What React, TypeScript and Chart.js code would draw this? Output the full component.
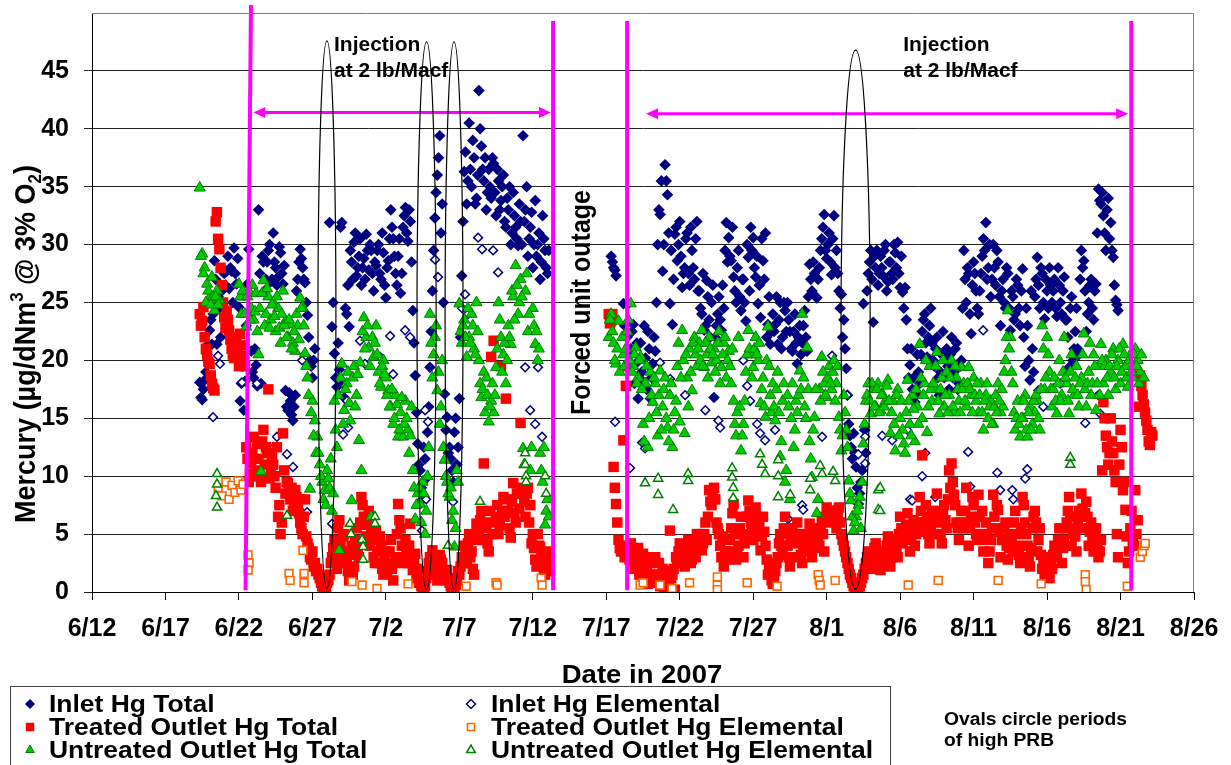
import React, { useEffect, useRef } from "react";
import { Chart, registerables } from "chart.js";

Chart.register(...registerables);

const FONT = '"Liberation Sans", Arial, Helvetica, sans-serif';
const NAVY = "#000080";
const RED = "#ff0000";
const ORANGE = "#ff6600";
const GREEN_FILL = "#00cc00";
const GREEN_EDGE = "#008000";
const MAGENTA = "#ff00ff";

// x values are days after 6/12/2007. The totals are logged every 4 hours from 6/19 08:00
// (primary readings) plus a second reading 2 hours later (offset readings).
const FIRST_SAMPLE_DAY = 7 + 1 / 3;
const SAMPLES_PER_DAY = 6;
const OFFSET_DAYS = 1 / 12;
const _ = null;

const inletHgTotal = [
  18.1, 16.6, 18.3, 20.5, 22.6, 21.4, // 6/19
  28.6, 21.4, 24.5, 26.0, 27.5, 27.7,
  26.2, 27.7, 29.7, 26.6, 24.6, 18.0,
  15.7, 23.0, 29.6, 20.8, 18.5, 19.6, // 6/22
  33.0, 18.0, 28.5, 27.0, 29.5, 26.8,
  31.0, 28.0, 27.2, 29.3, 26.6, 17.4,
  15.7, 16.5, 14.8, 17.0, 27.0, 29.6,
  28.0, 26.7, 23.9, 20.0, 18.5, 21.0,
  _, _, _, _, _, 31.9, // 6/27
  22.9, 20.6, 17.7, 19.2, 31.9, 16.8,
  24.0, 22.9, 28.5, 30.2, 27.3, 29.0,
  26.5, 28.8, 30.9, 27.8, 29.5, 26.0,
  28.2, 30.0, 27.0, 29.3, 25.4, 28.6,
  33.0, 30.5, 27.5, 29.0, 25.8, 31.5, // 7/2
  33.2, 30.3, 32.0, 24.3, 18.7, 12.8,
  10.5, 8.0, 11.5, 13.8, 19.4, 26.0,
  32.3, 36.0, 39.4, 33.5, 17.1, 15.1,
  12.5, 10.5, 13.8, 11.0, 16.7, 27.3,
  36.3, 33.5, 40.5, 35.0, 37.5, 34.0, // 7/7
  43.3, 38.5, 35.5, 33.0, 36.5, 34.0,
  37.0, 32.5, 35.5, 33.8, 36.0, 31.5,
  33.0, 30.0, 34.5, 31.5, 29.9, 32.0,
  39.4, 33.0, 29.0, 31.5, 28.0, 33.8,
  30.0, 27.0, 32.5, 29.5, 27.5, _, // 7/12
  _, _, _, _, _, _,
  _, _, _, _, _, _,
  _, _, _, _, _, _,
  _, _, _, _, _, _,
  29.0, 28.0, 27.3, _, _, 24.9, // 7/17
  23.1, 24.9, 21.0, 23.1, 19.7, 16.7,
  21.5, 18.0, 20.2, 22.5, 16.7, 19.7,
  20.8, 30.0, 32.6, 27.7, 36.9, 34.3,
  24.9, 23.1, 30.9, 28.6, 32.0, 26.3,
  28.0, 31.0, 26.5, 29.5, 27.0, 32.0, // 7/22
  26.0, 24.0, 22.6, 26.9, 23.5, 25.0,
  16.8, 23.0, 25.5, 22.6, 24.5, 31.9,
  30.6, 28.6, 27.2, 25.0, 29.5, 24.3,
  27.0, 23.4, 28.9, 31.5, 30.6, 27.2,
  24.9, 23.7, 28.6, 31.0, 23.1, 21.4, // 7/27
  24.0, 23.1, 21.4, 25.0, 22.0, 24.3,
  25.0, 22.5, 20.8, 24.0, 19.7, 23.0,
  21.5, 24.3, 20.8, 28.3, 26.0, 27.5,
  25.4, 28.0, 30.5, 32.6, 28.8, 31.0,
  27.4, 32.5, 29.5, 26.0, 25.7, 23.5, // 8/1
  19.3, 14.5, 12.5, 13.7, 10.8, 7.6,
  9.5, 24.9, 12.0, 27.5, 29.5, 23.3,
  28.0, 26.5, 29.0, 27.3, 30.0, 26.8,
  28.5, 27.0, 29.3, 30.2, 26.3, 25.9,
  26.3, 21.0, 19.6, 17.5, 16.4, 20.5, // 8/6
  18.0, 22.5, 24.0, 20.3, 23.0, 21.5,
  19.5, 22.0, 17.0, 20.5, 18.5, 21.0,
  17.5, 22.0, 19.0, 21.5, 18.0, 20.0,
  29.5, 25.0, 27.5, 22.3, 28.5, 26.0,
  24.0, 27.5, 30.5, 31.9, 28.0, 25.5, // 8/11
  30.0, 26.5, 28.5, 23.0, 27.0, 24.5,
  27.5, 22.6, 25.5, 24.0, 26.5, 23.0,
  27.9, 19.5, 23.0, 18.3, 21.0, 25.5,
  28.9, 24.5, 27.5, 23.6, 26.0, 28.0,
  25.0, 27.0, 23.8, 26.5, 24.0, 27.2, // 8/16
  23.5, 19.4, 25.5, 21.0, 24.5, 20.5,
  29.5, 28.6, 22.5, 25.0, 27.0, 23.5,
  26.6, 34.8, 33.5, 32.5, 29.5, 34.0,
  31.9, 28.9, 25.2, 24.3, _, _,
  _, _, _, _, _, _, // 8/21
  _, _, _, _, _, _,
];

const inletHgTotalOffset = [
  16.8, 17.5, 19.0, 21.4, 23.5, 24.0, // 6/19
  27.0, 25.5, 22.0, 27.8, 26.5, 29.0,
  28.0, 25.0, 27.5, 28.8, 16.5, 19.5,
  18.2, 26.6, 24.0, 19.0, 21.0, 17.8, // 6/22
  27.5, 29.0, 26.0, 28.5, 30.0, 27.0,
  28.5, 26.5, 29.8, 27.5, 28.2, 16.0,
  17.2, 15.3, 16.0, 26.0, 28.5, 28.8,
  27.0, 25.0, 22.0, 19.5, 20.0, _,
  _, _, _, _, _, _, // 6/27
  25.0, 18.5, 21.5, 31.5, 18.0, 24.5,
  26.5, 29.5, 27.0, 31.0, 28.0, 30.5,
  28.0, 27.0, 29.5, 30.0, 27.5, 28.5,
  29.5, 27.5, 31.0, 26.5, 28.0, 30.5,
  31.5, 29.0, 26.5, 30.5, 27.5, 32.5, // 7/2
  31.0, 33.0, 28.5, 21.5, 15.5, 11.0,
  9.0, 12.5, 9.8, 16.0, 22.5, 29.5,
  34.5, 37.5, 31.0, 25.0, 14.0, 12.0,
  11.5, 9.5, 15.0, 12.5, 22.0, 32.0,
  38.0, 35.5, 36.5, 39.0, 33.5, 36.0, // 7/7
  40.0, 36.5, 37.5, 34.5, 35.0, 37.5,
  34.5, 36.5, 33.0, 35.0, 32.0, 34.0,
  35.0, 31.0, 32.5, 30.5, 33.5, 30.0,
  32.0, 35.0, 30.5, 32.8, 30.0, 29.0,
  31.0, 28.5, 30.5, 28.0, 29.5, _, // 7/12
  _, _, _, _, _, _,
  _, _, _, _, _, _,
  _, _, _, _, _, _,
  _, _, _, _, _, _,
  28.5, 27.8, _, _, _, 23.0, // 7/17
  22.0, 20.5, 22.5, 18.0, 21.5, 18.5,
  19.0, 23.0, 17.5, 21.0, 18.5, 22.0,
  25.0, 33.0, 35.5, 30.0, 35.5, 31.0,
  29.5, 27.0, 31.5, 30.0, 29.0, 27.5,
  30.5, 27.5, 31.5, 28.0, 30.5, 26.0, // 7/22
  24.5, 27.5, 23.0, 25.5, 22.0, 26.5,
  22.0, 24.0, 23.5, 26.5, 29.5, 28.5,
  29.0, 31.5, 26.0, 28.0, 25.5, 27.0,
  25.0, 30.0, 26.0, 29.5, 28.0, 29.0,
  26.5, 30.5, 27.0, 22.0, 25.5, 22.5, // 7/27
  22.5, 25.5, 23.5, 21.0, 25.0, 22.5,
  23.5, 21.0, 22.5, 21.5, 22.0, 20.5,
  23.0, 22.0, 25.5, 27.0, 28.5, 25.5,
  27.0, 29.5, 31.5, 29.5, 30.0, 28.5,
  30.5, 28.0, 27.5, 24.5, 22.0, 21.0, // 8/1
  17.0, 13.5, 11.5, 12.0, 9.0, 8.5,
  10.5, 14.0, 26.0, 28.5, 27.0, 29.0,
  29.5, 27.5, 28.0, 29.5, 26.0, 28.5,
  27.5, 30.0, 28.0, 27.5, 29.0, 24.5,
  23.5, 18.5, 21.0, 18.5, 17.0, 19.0, // 8/6
  20.5, 23.5, 21.5, 22.0, 24.5, 20.0,
  21.0, 18.5, 19.0, 22.5, 20.0, 19.5,
  20.5, 18.5, 21.0, 17.5, 19.5, 24.5,
  27.0, 28.0, 24.0, 26.5, 27.5, 24.5,
  26.0, 29.0, 29.5, 27.0, 30.0, 27.0, // 8/11
  28.0, 29.5, 25.5, 26.0, 25.0, 28.0,
  24.5, 26.0, 23.5, 27.0, 24.5, 26.0,
  22.0, 24.5, 20.0, 26.0, 19.0, 27.0,
  26.5, 28.0, 25.0, 27.0, 24.5, 26.5,
  26.0, 24.5, 28.0, 25.0, 26.0, 23.5, // 8/16
  22.0, 24.5, 20.0, 22.5, 21.0, 27.0,
  28.0, 26.0, 24.0, 26.5, 24.5, 26.0,
  31.0, 33.8, 34.5, 31.0, 33.0, 30.5,
  29.5, 26.5, 24.8, _, _, _,
  _, _, _, _, _, _, // 8/21
  _, _, _, _, _, _,
];

const treatedOutletHgTotal = [
  24.0, 23.4, 22.0, 20.5, 19.7, 18.0, // 6/19
  17.4, 32.8, 29.6, 26.5, 23.7, 24.3,
  22.6, 21.0, 20.2, 22.0, 19.5, 21.3,
  20.0, 12.5, 9.5, 11.1, 13.4, 10.5, // 6/22
  11.5, 9.5, 14.0, 12.5, 17.5, 10.5,
  11.0, 9.0, 6.5, 5.0, 13.7, 8.5,
  9.4, 8.0, 7.0, 8.8, 7.5, 6.0,
  5.0, 8.0, 4.2, 3.0, 3.5, 2.5,
  2.0, 1.2, 0.5, 0.2, 0.8, 1.5, // 6/27
  3.0, 4.5, 2.0, 6.2, 3.5, 5.0,
  2.5, 1.0, 4.0, 2.2, 5.5, 3.0,
  8.2, 6.5, 4.8, 7.0, 5.5, 3.0,
  5.3, 2.5, 4.0, 1.5, 3.5, 2.0,
  4.5, 1.0, 3.0, 7.6, 5.5, 3.0, // 7/2
  4.5, 2.5, 5.9, 1.9, 3.3, 2.0,
  1.0, 0.2, 0.5, 1.8, 3.0, 3.6,
  2.0, 1.0, 3.2, 2.5, 1.5, 1.9,
  0.8, 0.3, 0.1, 1.0, 1.5, 3.0,
  4.0, 2.5, 5.0, 3.5, 1.5, 5.9, // 7/7
  4.8, 7.0, 11.1, 5.5, 3.5, 20.3,
  21.7, 6.5, 5.0, 19.5, 8.2, 16.7,
  7.0, 4.7, 9.4, 6.0, 8.5, 14.6,
  8.8, 6.5, 9.0, 7.5, 5.0, 2.8,
  5.0, 3.9, 2.5, 1.5, 3.5, 1.8, // 7/12
  _, _, _, _, _, _,
  _, _, _, _, _, _,
  _, _, _, _, _, _,
  _, _, _, _, _, 24.0,
  23.4, 10.8, 7.6, 4.5, 3.5, 13.1, // 7/17
  17.8, 19.5, 4.2, 3.0, 2.5, 3.8,
  2.0, 3.3, 1.0, 0.7, 2.5, 1.5,
  3.0, 1.0, 0.5, 2.0, 1.2, 0.3,
  5.3, 1.5, 0.2, 2.5, 4.2, 3.0,
  2.2, 3.5, 4.0, 2.8, 3.5, 5.0, // 7/22
  4.0, 3.6, 5.0, 4.5, 8.8, 7.5,
  9.0, 6.0, 5.0, 3.0, 2.2, 4.5,
  3.5, 5.5, 7.6, 2.8, 4.0, 6.5,
  3.0, 5.0, 7.9, 6.0, 4.5, 7.3,
  5.5, 3.6, 6.5, 4.0, 1.5, 2.5, // 7/27
  0.7, 1.8, 3.0, 5.0, 3.2, 6.5,
  4.0, 2.2, 5.5, 3.0, 6.0, 4.5,
  2.5, 5.0, 3.5, 5.9, 3.0, 4.5,
  5.5, 4.0, 6.2, 3.5, 7.3, 6.5,
  7.0, 6.2, 5.5, 7.3, 5.0, 4.0, // 8/1
  3.0, 2.0, 1.2, 0.5, 0.2, 0.1,
  0.8, 1.5, 2.5, 3.5, 2.0, 3.0,
  4.2, 2.5, 1.9, 3.5, 2.8, 4.8,
  2.2, 3.5, 4.5, 3.0, 6.5, 4.2,
  5.0, 6.8, 3.5, 5.5, 4.0, 6.0, // 8/6
  8.2, 11.8, 5.5, 6.5, 4.2, 7.0,
  5.0, 8.5, 6.0, 4.2, 7.5, 5.5,
  10.5, 11.1, 8.4, 6.0, 4.5, 7.0,
  5.5, 9.0, 4.0, 6.5, 7.5, 5.0,
  8.4, 5.0, 3.5, 6.0, 2.5, 4.5, // 8/11
  8.4, 5.5, 7.1, 3.0, 4.5, 6.0,
  2.8, 5.0, 3.5, 7.0, 4.0, 2.5,
  8.2, 6.0, 4.0, 2.2, 5.5, 7.0,
  3.5, 5.5, 2.0, 1.5, 3.0, 1.2,
  2.0, 4.0, 3.0, 5.5, 2.5, 4.5, // 8/16
  6.0, 8.2, 4.0, 5.5, 3.5, 7.0,
  8.5, 5.5, 7.8, 4.0, 6.0, 3.5,
  5.5, 3.0, 4.5, 16.4, 13.5, 11.0,
  15.0, 12.0, 9.5, 3.0, 14.0, 8.8,
  7.1, 2.5, 5.5, 4.2, 8.8, 6.2, // 8/21
  18.7, 17.0, 15.5, 14.0, 12.7, 13.5,
];

const treatedOutletHgTotalOffset = [
  23.0, 24.6, 21.0, 19.9, 18.7, 17.6, // 6/19
  32.0, 30.5, 28.0, 25.0, 22.8, 23.5,
  21.8, 20.5, 21.5, 20.6, 22.3, 20.4,
  19.5, 11.5, 10.2, 12.0, 10.0, 12.8, // 6/22
  10.0, 13.0, 11.0, 12.0, 9.8, 11.8,
  10.0, 12.5, 7.5, 6.0, 10.5, 9.5,
  8.5, 9.0, 7.8, 8.2, 6.8, 5.5,
  6.5, 4.8, 3.8, 2.8, 2.2, 1.8,
  1.5, 0.8, 0.3, 0.4, 1.0, 2.5, // 6/27
  3.8, 2.8, 5.5, 4.2, 4.8, 2.8,
  1.8, 3.2, 1.5, 4.5, 3.8, 6.0,
  7.5, 5.8, 6.2, 4.0, 4.5, 2.5,
  3.5, 4.8, 2.0, 2.8, 1.8, 3.5,
  2.0, 2.5, 5.0, 6.2, 4.0, 2.5, // 7/2
  3.8, 4.0, 3.0, 2.5, 1.2, 0.8,
  0.5, 0.3, 1.2, 2.5, 2.2, 2.8,
  1.5, 2.2, 2.8, 1.8, 1.0, 1.2,
  0.5, 0.2, 0.6, 1.8, 2.2, 2.5,
  3.2, 4.2, 3.0, 2.0, 4.5, 5.5, // 7/7
  6.2, 4.5, 6.0, 4.2, 7.0, 5.0,
  6.0, 7.5, 5.8, 7.0, 6.5, 8.0,
  5.5, 7.8, 6.8, 8.5, 7.2, 9.0,
  7.8, 8.5, 6.0, 4.2, 3.8, 2.2,
  4.0, 3.2, 2.0, 2.8, 2.2, _, // 7/12
  _, _, _, _, _, _,
  _, _, _, _, _, _,
  _, _, _, _, _, _,
  _, _, _, _, _, 23.2,
  24.0, 9.0, 6.0, 3.8, 4.0, 3.0, // 7/17
  3.5, 2.8, 3.8, 2.0, 3.2, 1.5,
  2.8, 1.2, 1.8, 3.0, 0.8, 1.0,
  1.5, 2.5, 0.8, 0.4, 1.8, 0.6,
  1.2, 2.0, 3.0, 3.5, 2.8, 4.0,
  3.0, 4.5, 2.5, 4.2, 3.0, 4.0, // 7/22
  5.0, 4.2, 6.0, 6.5, 7.8, 8.5,
  8.0, 5.5, 4.0, 4.8, 3.5, 2.8,
  4.5, 6.8, 5.0, 3.5, 5.5, 5.0,
  4.2, 6.5, 7.0, 5.2, 6.8, 5.8,
  6.0, 4.8, 5.2, 2.8, 2.0, 1.0, // 7/27
  1.2, 2.5, 4.2, 4.0, 5.5, 5.0,
  3.0, 4.8, 4.2, 4.5, 5.0, 3.2,
  3.8, 4.0, 4.8, 4.5, 5.2, 3.8,
  4.8, 5.5, 5.0, 6.5, 6.0, 7.0,
  6.5, 7.0, 6.8, 6.0, 4.5, 3.5, // 8/1
  2.5, 1.5, 0.8, 0.3, 0.5, 0.5,
  1.2, 2.0, 3.0, 2.8, 2.5, 3.8,
  3.2, 2.0, 2.8, 3.0, 4.0, 3.5,
  3.0, 4.0, 3.8, 5.0, 5.5, 5.2,
  5.8, 4.5, 4.8, 6.2, 5.0, 5.2, // 8/6
  7.0, 6.0, 7.5, 5.0, 5.8, 6.2,
  6.5, 7.0, 5.0, 6.8, 6.2, 8.0,
  9.0, 9.5, 7.5, 5.5, 6.0, 5.8,
  7.0, 6.0, 5.5, 8.2, 6.0, 4.5,
  6.5, 7.0, 4.5, 5.0, 3.5, 5.5, // 8/11
  6.5, 7.5, 5.2, 4.5, 5.5, 4.0,
  3.8, 4.2, 6.0, 5.0, 3.2, 5.5,
  7.5, 5.0, 3.0, 3.8, 6.5, 6.0,
  4.5, 3.2, 2.5, 2.2, 2.0, 2.5,
  3.2, 3.5, 4.5, 4.0, 3.8, 5.5, // 8/16
  7.0, 6.5, 5.0, 4.8, 6.0, 6.5,
  7.2, 6.8, 6.5, 5.2, 4.5, 4.8,
  4.0, 3.5, 10.5, 15.0, 12.5, 12.0,
  13.0, 10.5, 5.0, 11.0, 12.5, 9.5,
  4.8, 3.5, 7.0, 4.0, 5.0, 16.0, // 8/21
  17.8, 16.2, 14.8, 13.0, 13.8, _,
];

const untreatedOutletHgTotal = [
  34.9, 29.2, 28.0, 26.6, 25.4, 27.2, // 6/19
  24.3, 26.0, 25.2, _, _, _,
  _, _, _, _, 26.6, 24.0,
  25.5, 22.9, 26.0, 24.5, 23.5, 25.8, // 6/22
  20.5, 10.4, 26.9, 24.0, 25.5, 23.5,
  25.0, 22.5, 24.5, 21.5, 26.0, 23.4,
  22.0, 23.1, 21.5, 20.8, 23.0, 25.4,
  24.6, 20.6, 18.5, 8.9, 16.5, 14.8,
  13.4, 11.0, 9.5, 8.8, 10.5, 9.0, // 6/27
  7.0, 16.5, 12.5, 3.6, 19.7, 15.7,
  18.0, 16.3, 7.9, 19.5, 17.0, 13.1,
  10.5, 23.7, 22.0, 21.1, 6.5, 20.3,
  23.0, 19.0, 17.7, 20.0, 18.5, 17.4,
  16.0, 14.5, 17.0, 13.4, 15.5, 13.4, // 7/2
  16.5, 14.0, 13.5, 10.5, 6.3, 8.5,
  7.6, 9.5, 5.0, 10.0, 24.0, 18.5,
  22.0, 17.4, 14.5, 20.0, 11.4, 9.5,
  8.2, 6.2, 3.9, 10.5, 24.9, 21.5,
  23.5, 20.3, 22.0, 24.0, 21.0, 25.0, // 7/7
  20.0, 16.8, 19.0, 18.5, 14.7, 16.5,
  15.5, 19.4, 25.0, 22.0, 20.5, 18.0,
  23.0, 21.4, 25.5, 28.2, 24.0, 27.0,
  12.4, 26.0, 22.5, 10.5, 24.5, 21.4,
  20.0, 12.0, 9.5, 5.8, 8.0, _, // 7/12
  _, _, _, _, _, _,
  _, _, _, _, _, _,
  _, _, _, _, _, _,
  _, _, _, _, _, 22.0,
  24.0, 21.5, 19.7, 23.4, _, 20.5, // 7/17
  21.0, 23.5, 24.9, 19.5, 21.1, 18.5,
  20.3, 14.5, 18.0, 12.5, 19.0, 16.4,
  18.0, 13.5, 19.1, 16.0, 18.5, 14.2,
  17.0, 12.5, 15.5, 19.5, 14.7, 22.6,
  13.7, 18.5, 21.0, 17.4, 22.0, 19.5, // 7/22
  21.5, 22.6, 19.4, 20.5, 22.0, 19.8,
  21.0, 20.0, 22.5, 19.4, 21.5, 18.5,
  20.8, 18.0, 16.5, 13.5, 22.0, 12.2,
  14.5, 19.0, 22.6, 20.5, 19.4, 22.0,
  20.0, 16.3, 18.5, 15.1, 22.9, 17.0, // 7/27
  18.0, 14.8, 19.0, 11.7, 16.5, 9.5,
  17.0, 8.0, 18.0, 14.0, 15.5, 19.1,
  24.0, 16.0, 21.1, 13.0, 9.9, 15.1,
  6.8, 17.5, 20.3, 18.0, 16.8, 19.5,
  17.5, 20.0, 18.0, 15.1, 12.2, 17.0, // 8/1
  14.0, 9.6, 7.9, 5.3, 6.5, 7.5,
  5.5, 12.8, 16.5, 18.0, 15.4, 17.5,
  16.0, 18.0, 15.7, 17.0, 16.5, 18.3,
  13.7, 16.5, 12.2, 17.5, 15.0, 14.0,
  12.0, 18.3, 14.5, 17.0, 13.0, 16.0, // 8/6
  21.4, 15.0, 18.0, 13.8, 19.5, 16.5,
  17.5, 20.7, 15.4, 18.5, 16.0, 19.0,
  17.0, 20.0, 15.5, 18.5, 16.5, 19.4,
  18.0, 16.0, 19.4, 17.0, 18.5, 16.5,
  15.5, 18.0, 14.0, 17.0, 15.0, 16.5, // 8/11
  14.5, 17.0, 18.0, 15.5, 16.0, 20.0,
  24.3, 22.0, 18.0, 14.0, 16.5, 13.4,
  15.0, 17.0, 13.4, 16.0, 14.5, 15.5,
  16.5, 14.0, 23.0, 17.5, 22.0, 19.0,
  16.0, 18.5, 15.4, 20.0, 17.0, 22.0, // 8/16
  18.0, 15.4, 20.5, 17.0, 19.5, 16.0,
  18.5, 22.3, 16.0, 19.0, 17.0, 20.5,
  15.7, 19.5, 21.4, 18.0, 20.0, 17.0,
  19.0, 21.0, 17.5, 20.0, 18.0, 21.4,
  19.5, 17.7, 20.5, 18.5, 21.0, 20.0, // 8/21
  19.0, _, _, _, _, _,
];

const untreatedOutletHgTotalOffset = [
  29.0, 27.5, 25.0, 26.0, 24.8, 25.5, // 6/19
  25.5, 24.8, _, _, _, _,
  _, _, _, _, 25.5, 26.0,
  24.0, 25.5, 23.5, 26.5, 24.2, 22.5, // 6/22
  24.5, 25.8, 23.0, 26.2, 22.8, 24.8,
  23.8, 25.5, 22.8, 24.0, 23.0, 22.0,
  23.5, 21.0, 22.5, 24.0, 21.8, 24.5,
  23.0, 19.5, 17.0, 15.5, 13.5, 12.0,
  12.0, 10.0, 8.0, 7.5, 9.8, 11.5, // 6/27
  8.5, 14.0, 17.0, 18.5, 14.5, 17.5,
  19.0, 14.8, 18.5, 16.0, 18.8, 19.8,
  22.5, 21.0, 23.0, 19.5, 22.0, 21.5,
  20.5, 18.0, 19.5, 18.8, 17.0, 16.0,
  17.5, 15.0, 16.2, 14.0, 16.8, 14.5, // 7/2
  15.0, 12.0, 16.0, 9.0, 7.5, 9.0,
  6.0, 8.5, 7.0, 12.5, 21.5, 20.5,
  23.0, 19.0, 16.0, 12.5, 10.0, 8.5,
  9.0, 7.0, 5.5, 9.5, 22.5, 23.0,
  22.0, 24.5, 21.5, 23.0, 20.5, 22.5, // 7/7
  18.0, 17.5, 15.5, 17.0, 16.0, 18.0,
  17.0, 21.0, 23.5, 19.0, 21.5, 20.0,
  22.0, 26.0, 23.5, 26.5, 25.0, 25.5,
  11.0, 27.5, 24.0, 12.5, 23.0, 22.5,
  21.0, 10.5, 12.5, 7.0, 6.5, _, // 7/12
  _, _, _, _, _, _,
  _, _, _, _, _, _,
  _, _, _, _, _, _,
  _, _, _, _, _, 23.5,
  22.5, 20.0, 21.0, 19.0, 22.0, 19.5, // 7/17
  22.5, 20.0, 19.0, 20.5, 18.0, 20.0,
  17.5, 13.0, 19.5, 15.0, 17.0, 18.5,
  15.5, 17.0, 14.0, 17.5, 15.0, 13.0,
  18.0, 14.0, 16.5, 21.5, 18.5, 20.0,
  20.5, 16.0, 19.0, 21.5, 20.5, 21.0, // 7/22
  20.0, 19.5, 21.5, 18.5, 21.0, 20.5,
  19.0, 21.5, 18.0, 20.5, 22.0, 20.0,
  19.5, 21.0, 14.5, 15.5, 16.0, 13.5,
  16.5, 20.5, 21.0, 18.5, 21.0, 20.5,
  21.5, 17.5, 16.0, 20.0, 19.5, 15.5, // 7/27
  16.0, 17.5, 15.5, 13.0, 18.0, 10.5,
  16.0, 15.0, 12.5, 16.5, 17.0, 17.5,
  18.5, 15.0, 17.5, 11.5, 14.0, 17.5,
  8.0, 16.5, 19.0, 17.0, 18.5, 18.0,
  19.0, 16.5, 19.5, 14.0, 13.5, 15.5, // 8/1
  12.5, 8.5, 6.5, 6.0, 7.0, 8.2,
  9.5, 14.5, 17.0, 16.5, 18.0, 16.0,
  17.5, 15.5, 17.0, 16.0, 17.8, 16.5,
  15.5, 14.5, 17.0, 13.5, 16.5, 12.8,
  15.5, 16.5, 13.5, 15.8, 17.5, 14.5, // 8/6
  18.5, 17.0, 20.0, 16.0, 17.5, 18.0,
  19.5, 16.5, 17.5, 20.0, 17.0, 15.5,
  18.5, 16.0, 19.5, 17.5, 15.5, 17.5,
  16.5, 18.0, 17.5, 15.5, 17.0, 18.0,
  17.0, 15.5, 16.5, 18.0, 16.0, 14.5, // 8/11
  16.0, 15.5, 16.5, 17.5, 19.0, 22.0,
  21.0, 19.0, 15.5, 15.0, 14.5, 15.0,
  16.5, 14.0, 15.5, 14.0, 16.5, 17.0,
  15.0, 17.5, 21.0, 18.5, 20.5, 17.5,
  17.5, 16.5, 18.0, 16.5, 19.0, 18.5, // 8/16
  16.5, 19.0, 17.5, 18.5, 17.0, 18.0,
  20.5, 17.5, 18.0, 21.5, 18.0, 19.5,
  18.0, 17.0, 20.0, 19.5, 18.5, 19.5,
  20.5, 18.5, 19.5, 21.0, 19.0, 20.5,
  18.5, 20.0, 19.0, 20.5, 19.5, 18.0, // 8/21
  20.5, 18.5, _, _, _, _,
];

// Elemental readings: [day after 6/12, value]
const inletHgElemental = [
  [8.24, 15.1], [8.58, 20.4], [8.71, 19.7], [10.21, 18.1], [11.23, 18.0], [12.39, 12.5],
  [12.59, 13.4], [13.27, 11.9], [13.68, 10.8], [14.3, 20.0], [14.64, 6.9], [16.34, 5.9],
  [17.09, 13.6], [17.36, 16.5], [17.43, 14.2], [18.24, 21.7], [18.58, 19.7], [19.61, 20.3],
  [20.29, 22.1], [20.49, 18.8], [21.31, 22.6], [21.65, 22.0], [22.46, 5.3], [22.67, 15.7],
  [22.74, 8.0], [22.87, 14.7], [23.35, 28.7], [23.55, 27.2], [24.57, 7.8], [25.19, 24.5],
  [25.39, 25.7], [25.6, 24.0], [26.28, 30.6], [26.55, 29.6], [27.3, 29.5], [27.64, 27.6],
  [29.48, 19.4], [29.82, 15.7], [30.16, 14.5], [30.36, 19.4], [30.63, 13.4],
  [35.6, 14.7], [36.62, 10.7], [37.44, 12.9], [37.64, 12.4], [38.66, 19.8], [39.35, 18.4],
  [40.37, 17.0], [41.74, 15.7], [42.63, 14.8], [42.75, 14.2], [44.32, 20.0], [44.59, 17.8],
  [44.79, 16.5], [45.27, 14.5], [45.47, 13.7], [45.81, 13.1], [46.49, 14.0], [47.38, 6.3],
  [48.33, 7.5], [48.4, 7.1], [49.69, 13.4], [50.37, 20.4], [51.4, 17.0], [52.15, 11.9],
  [52.62, 11.1], [52.62, 13.4], [53.78, 13.5], [54.46, 13.1], [55.48, 14.0], [55.68, 8.0],
  [55.82, 7.9], [56.5, 10.0], [56.71, 12.0], [57.39, 8.2], [59.63, 12.1], [59.77, 9.1],
  [60.65, 22.6], [61.61, 10.3], [61.81, 8.8], [62.63, 8.8], [62.7, 8.0], [63.51, 9.8],
  [63.65, 10.6], [64.4, 17.4], [64.74, 16.0], [65.9, 18.0], [67.6, 14.6], [68.48, 17.0],
  [68.62, 15.4],
];

const treatedOutletHgElemental = [
  [8.58, 9.0], [8.85, 8.3], [9.12, 9.5], [9.33, 8.0], [9.53, 9.2], [9.73, 8.6], [9.94, 9.6],
  [10.14, 8.8], [10.28, 9.3], [10.62, 3.2], [10.69, 2.5], [10.62, 1.9], [13.41, 1.6],
  [13.48, 1.0], [14.36, 3.6], [14.43, 1.6], [14.43, 0.8], [17.7, 0.9], [18.38, 0.6],
  [19.4, 0.3], [21.51, 0.7], [25.46, 0.5], [27.5, 0.8], [27.57, 0.6], [30.57, 1.2],
  [30.63, 0.6],
  [37.3, 0.6], [37.51, 0.8], [38.66, 0.6], [39.48, 0.3], [40.67, 0.8], [42.56, 1.3],
  [42.56, 0.6], [42.56, 0.2], [44.59, 0.8], [46.63, 0.5], [49.42, 1.5], [49.49, 1.0],
  [49.56, 0.6], [50.58, 1.0], [55.55, 0.6], [57.59, 1.0], [61.67, 1.0], [64.6, 0.7],
  [67.6, 1.5], [67.6, 0.9], [67.66, 0.2], [70.46, 0.5], [71.34, 3.0], [71.48, 3.5],
  [71.61, 4.0], [71.68, 4.2],
];

const untreatedOutletHgElemental = [
  [8.51, 10.2], [8.51, 9.3], [8.44, 8.3], [8.51, 7.3], [13.27, 6.6], [17.56, 5.9],
  [17.63, 5.0], [18.38, 4.5], [18.45, 3.9], [18.45, 2.8], [19.26, 6.5], [19.26, 5.9],
  [24.23, 4.0], [26.41, 7.8], [29.48, 12.0], [29.48, 11.0], [29.54, 10.0], [29.54, 9.5],
  [30.84, 10.0], [30.91, 8.5],
  [37.64, 9.4], [38.53, 9.8], [38.53, 8.4], [39.55, 7.1], [40.57, 10.2], [40.57, 9.6],
  [43.57, 10.7], [43.57, 9.9], [43.64, 9.0], [43.64, 8.1], [45.47, 11.9], [45.61, 11.0],
  [45.81, 10.2], [46.7, 11.4], [46.7, 10.0], [46.7, 8.2], [47.52, 8.4], [48.88, 9.8],
  [48.88, 8.8], [49.56, 10.9], [49.69, 10.2], [50.44, 10.4], [50.58, 9.6], [53.51, 8.8],
  [53.64, 9.0], [53.51, 7.1], [53.64, 7.0], [66.58, 11.6], [66.58, 11.0],
];

// Tick values
const X_TICK_STEP = 5; // days
const X_MAX_DAY = 75; // 8/26
const Y_TICK_STEP = 5;
const Y_MAX = 50;

// Injection periods (magenta bounds): [dayTop, valueTop, dayBottom, valueBottom]
const periodBounds = [
  [10.82, 50.7, 10.45, 0.15],
  [31.38, 49.3, 31.38, 0.15],
  [36.42, 49.3, 36.42, 0.15],
  [70.73, 49.3, 70.73, 0.15],
];
// Double arrows: [dayStart, dayEnd, value]
const periodArrows = [
  [10.98, 31.24, 41.4],
  [37.71, 70.52, 41.3],
];
// High PRB periods: [centerDay, halfWidthDays, topValue, bottomValue]
const prbOvals = [
  [15.99, 0.61, 47.6, 0.3],
  [22.77, 0.65, 47.5, 0.2],
  [24.64, 0.61, 47.5, 0.2],
  [51.97, 0.99, 46.8, 0.25],
];

const dayLabel = (day) => {
  const d = new Date(2007, 5, 12 + Math.round(day));
  return `${d.getMonth() + 1}/${d.getDate()}`;
};

const sampled = (values, offset) => {
  const pts = [];
  values.forEach((v, i) => {
    if (v !== null) pts.push({ x: FIRST_SAMPLE_DAY + offset + i / SAMPLES_PER_DAY, y: v });
  });
  return pts;
};
const bothReadings = (a, b) => sampled(a, 0).concat(sampled(b, OFFSET_DAYS));
const paired = (arr) => arr.map(([x, y]) => ({ x, y }));

function drawMarker(ctx, style, x, y, r, fill, stroke, lw) {
  ctx.beginPath();
  if (style === "rectRot") {
    ctx.moveTo(x - r, y);
    ctx.lineTo(x, y - r);
    ctx.lineTo(x + r, y);
    ctx.lineTo(x, y + r);
  } else if (style === "rect") {
    const s = r * Math.SQRT1_2;
    ctx.rect(x - s, y - s, 2 * s, 2 * s);
  } else {
    ctx.moveTo(x, y - r);
    ctx.lineTo(x + r * 0.866, y + r * 0.5);
    ctx.lineTo(x - r * 0.866, y + r * 0.5);
  }
  ctx.closePath();
  ctx.fillStyle = fill;
  ctx.fill();
  if (lw > 0) {
    ctx.lineWidth = lw;
    ctx.strokeStyle = stroke;
    ctx.stroke();
  }
}

function stretchedText(ctx, text, x, y, size, sx, align = "left") {
  ctx.save();
  ctx.font = `bold ${size}px ${FONT}`;
  ctx.translate(x, y);
  ctx.scale(sx, 1);
  ctx.textAlign = align;
  ctx.textBaseline = "alphabetic";
  ctx.fillStyle = "#000";
  ctx.fillText(text, 0, 0);
  ctx.restore();
}

function verticalText(ctx, parts, baselineX, centerY, sy) {
  ctx.save();
  ctx.translate(baselineX, centerY);
  ctx.rotate(-Math.PI / 2);
  ctx.scale(1, sy);
  ctx.textBaseline = "alphabetic";
  ctx.textAlign = "left";
  ctx.fillStyle = "#000";
  let total = 0;
  parts.forEach((p) => {
    ctx.font = `bold ${p.size}px ${FONT}`;
    total += ctx.measureText(p.text).width;
  });
  let cx = -total / 2;
  parts.forEach((p) => {
    ctx.font = `bold ${p.size}px ${FONT}`;
    ctx.fillText(p.text, cx, p.dy || 0);
    cx += ctx.measureText(p.text).width;
  });
  ctx.restore();
}

const decorations = {
  id: "decorations",
  afterDatasetsDraw(chart) {
    const { ctx, scales } = chart;
    const xs = scales.x;
    const ys = scales.y;
    const px = (d) => xs.getPixelForValue(d);
    const py = (v) => ys.getPixelForValue(v);
    ctx.save();

    // injection period bounds
    ctx.strokeStyle = MAGENTA;
    ctx.lineWidth = 4;
    periodBounds.forEach(([d0, v0, d1, v1]) => {
      ctx.beginPath();
      ctx.moveTo(px(d0), py(v0));
      ctx.lineTo(px(d1), py(v1));
      ctx.stroke();
    });

    // double arrows
    ctx.lineWidth = 3;
    ctx.fillStyle = MAGENTA;
    const head = 12;
    const half = 5.5;
    periodArrows.forEach(([d0, d1, v]) => {
      const x0 = px(d0);
      const x1 = px(d1);
      const y = py(v);
      ctx.beginPath();
      ctx.moveTo(x0 + head - 1, y);
      ctx.lineTo(x1 - head + 1, y);
      ctx.stroke();
      ctx.beginPath();
      ctx.moveTo(x0, y);
      ctx.lineTo(x0 + head, y - half);
      ctx.lineTo(x0 + head, y + half);
      ctx.closePath();
      ctx.fill();
      ctx.beginPath();
      ctx.moveTo(x1, y);
      ctx.lineTo(x1 - head, y - half);
      ctx.lineTo(x1 - head, y + half);
      ctx.closePath();
      ctx.fill();
    });

    // high PRB ovals
    ctx.strokeStyle = "#000";
    ctx.lineWidth = 1.2;
    prbOvals.forEach(([cd, hw, top, bottom]) => {
      const cx = px(cd);
      const rx = px(cd + hw) - cx;
      const yTop = py(top);
      const yBot = py(bottom);
      ctx.beginPath();
      ctx.ellipse(cx, (yTop + yBot) / 2, rx, (yBot - yTop) / 2, 0, 0, Math.PI * 2);
      ctx.stroke();
    });

    // period notes
    stretchedText(ctx, "Injection", px(16.47), py(46.7), 20, 1.05);
    stretchedText(ctx, "at 2 lb/Macf", px(16.47), py(44.5), 20, 1.05);
    stretchedText(ctx, "Injection", px(55.21), py(46.7), 20, 1.05);
    stretchedText(ctx, "at 2 lb/Macf", px(55.21), py(44.5), 20, 1.05);
    verticalText(ctx, [{ text: "Forced unit outage", size: 25 }], px(33.9), py(25.0), 1.1);
    ctx.restore();
  },
  afterDraw(chart) {
    const { ctx, chartArea } = chart;
    ctx.save();
    // plot frame (top and right)
    ctx.strokeStyle = "#808080";
    ctx.lineWidth = 1;
    ctx.beginPath();
    ctx.moveTo(chartArea.left, chartArea.top + 0.5);
    ctx.lineTo(chartArea.right - 0.5, chartArea.top + 0.5);
    ctx.lineTo(chartArea.right - 0.5, chartArea.bottom);
    ctx.stroke();

    // axis titles
    verticalText(
      ctx,
      [
        { text: "Mercury (\u00b5g/dNm", size: 27 },
        { text: "3", size: 17, dy: -11 },
        { text: " @ 3% O", size: 27 },
        { text: "2", size: 17, dy: 5 },
        { text: ")", size: 27 },
      ],
      35,
      344,
      1.12
    );
    stretchedText(ctx, "Date in 2007", 642, 683, 25, 1.1, "center");

    // legend
    ctx.strokeStyle = "#404040";
    ctx.lineWidth = 1;
    ctx.strokeRect(10.5, 686.5, 880, 100);
    const rowsY = [712, 735, 758];
    const cols = [
      { mx: 30, tx: 49 },
      { mx: 471, tx: 491 },
    ];
    chart.data.datasets.forEach((ds) => {
      const slot = ds.legendSlot;
      const col = cols[slot[1]];
      const y = rowsY[slot[0]];
      drawMarker(ctx, ds.pointStyle, col.mx, y - 8, ds.legendRadius, ds.backgroundColor, ds.borderColor, ds.borderWidth);
      stretchedText(ctx, ds.label, col.tx, y, 23, 1.15);
    });

    stretchedText(ctx, "Ovals circle periods", 944, 725, 18, 1.07);
    stretchedText(ctx, "of high PRB", 944, 746, 18, 1.07);
    ctx.restore();
  },
};

export default function App() {
  const canvasRef = useRef(null);

  useEffect(() => {
    Chart.defaults.font.family = FONT;
    const tickFont = { family: FONT, size: 25, weight: "bold" };
    const chart = new Chart(canvasRef.current, {
      type: "scatter",
      data: {
        datasets: [
          {
            label: "Untreated Outlet Hg Elemental",
            data: paired(untreatedOutletHgElemental),
            pointStyle: "triangle",
            pointRadius: 5.3,
            backgroundColor: "#ffffff",
            borderColor: GREEN_EDGE,
            borderWidth: 1.5,
            order: 1,
            legendSlot: [2, 1],
            legendRadius: 5,
          },
          {
            label: "Untreated Outlet Hg Total",
            data: bothReadings(untreatedOutletHgTotal, untreatedOutletHgTotalOffset),
            pointStyle: "triangle",
            pointRadius: 6.4,
            backgroundColor: GREEN_FILL,
            borderColor: GREEN_EDGE,
            borderWidth: 1,
            order: 2,
            legendSlot: [2, 0],
            legendRadius: 5,
          },
          {
            label: "Treated Outlet Hg Elemental",
            data: paired(treatedOutletHgElemental),
            pointStyle: "rect",
            pointRadius: 5.5,
            backgroundColor: "#ffffff",
            borderColor: ORANGE,
            borderWidth: 1.6,
            order: 3,
            legendSlot: [1, 1],
            legendRadius: 5,
          },
          {
            label: "Treated Outlet Hg Total",
            data: bothReadings(treatedOutletHgTotal, treatedOutletHgTotalOffset),
            pointStyle: "rect",
            pointRadius: 7.4,
            backgroundColor: RED,
            borderColor: RED,
            borderWidth: 0,
            order: 4,
            legendSlot: [1, 0],
            legendRadius: 6,
          },
          {
            label: "Inlet Hg Elemental",
            data: paired(inletHgElemental),
            pointStyle: "rectRot",
            pointRadius: 4.4,
            backgroundColor: "#ffffff",
            borderColor: NAVY,
            borderWidth: 1.5,
            order: 5,
            legendSlot: [0, 1],
            legendRadius: 4.5,
          },
          {
            label: "Inlet Hg Total",
            data: bothReadings(inletHgTotal, inletHgTotalOffset),
            pointStyle: "rectRot",
            pointRadius: 5.8,
            backgroundColor: NAVY,
            borderColor: NAVY,
            borderWidth: 0,
            order: 6,
            legendSlot: [0, 0],
            legendRadius: 5,
          },
        ],
      },
      options: {
        animation: false,
        responsive: false,
        devicePixelRatio: 1,
        events: [],
        layout: { padding: { top: 13, right: 37, left: 0, bottom: 0 } },
        plugins: { legend: { display: false }, tooltip: { enabled: false } },
        scales: {
          x: {
            type: "linear",
            min: 0,
            max: X_MAX_DAY,
            ticks: {
              stepSize: X_TICK_STEP,
              autoSkip: false,
              maxRotation: 0,
              color: "#000",
              font: tickFont,
              padding: 14,
              callback: (v) => dayLabel(Number(v)),
            },
            grid: { drawOnChartArea: false, drawTicks: true, tickLength: 8, color: "#000" },
            border: { display: true, color: "#000", width: 1 },
            afterFit: (s) => {
              s.height = 173;
              s.paddingLeft = 0;
              s.paddingRight = 0;
            },
          },
          y: {
            type: "linear",
            min: 0,
            max: Y_MAX,
            ticks: {
              stepSize: Y_TICK_STEP,
              color: "#000",
              font: tickFont,
              padding: 15,
              callback: (v) => (Number(v) === Y_MAX ? "" : String(v)),
            },
            grid: {
              color: (c) => (c.tick && c.tick.value === Y_MAX ? "rgba(0,0,0,0)" : "#222222"),
              tickLength: 8,
              lineWidth: 1,
            },
            border: { display: true, color: "#000", width: 1 },
            afterFit: (s) => {
              s.width = 92;
              s.paddingTop = 0;
              s.paddingBottom = 0;
            },
          },
        },
      },
      plugins: [decorations],
    });
    return () => chart.destroy();
  }, []);

  return (
    <div style={{ position: "absolute", left: 0, top: 0, width: 1231, height: 765, background: "#fff" }}>
      <canvas ref={canvasRef} width={1231} height={765} style={{ display: "block" }} />
    </div>
  );
}
